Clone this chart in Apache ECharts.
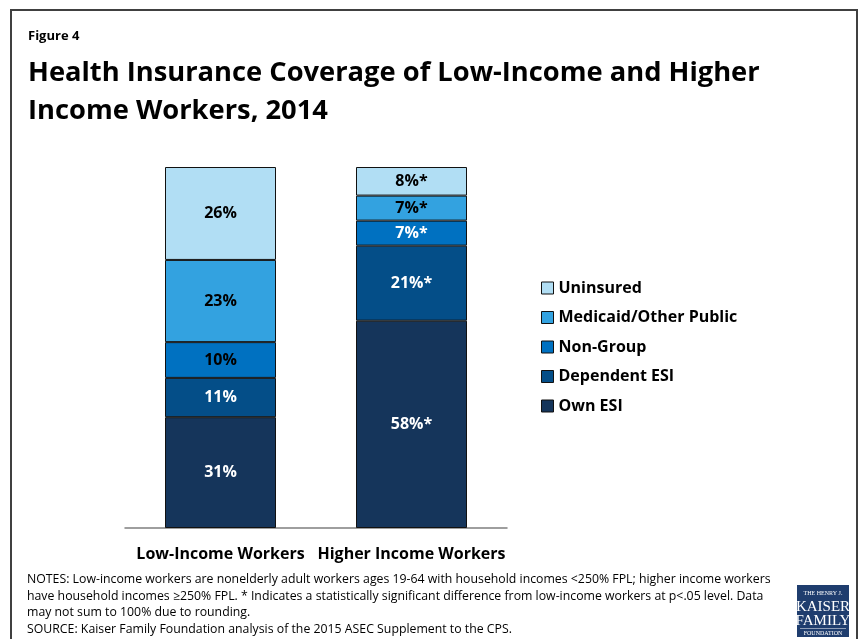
<!DOCTYPE html>
<html>
<head>
<meta charset="utf-8">
<script src="https://cdn.jsdelivr.net/npm/echarts@6/dist/echarts.min.js"></script>
<style>
html,body{margin:0;padding:0;background:#fff;}
#chart{width:861px;height:639px;}
</style>
</head>
<body>
<div id="chart"></div>
<script>
// ---- data ----
var categories = ['Low-Income Workers', 'Higher Income Workers'];
var seriesNames = ['Own ESI', 'Dependent ESI', 'Non-Group', 'Medicaid/Other Public', 'Uninsured'];
var ownESI = [31, 58];
var dependentESI = [11, 21];
var nonGroup = [10, 7];
var medicaid = [23, 7];
var uninsured = [26, 8];
var significant = [false, true];
var legendOrder = ['Uninsured', 'Medicaid/Other Public', 'Non-Group', 'Dependent ESI', 'Own ESI'];

// ---- styling ----
var FONT = "'Open Sans', sans-serif";
var colors = {
  'Own ESI': '#15355B',
  'Dependent ESI': '#044E88',
  'Non-Group': '#0071C1',
  'Medicaid/Other Public': '#33A2E0',
  'Uninsured': '#B1DEF4'
};
// label color per series per category
var labelColors = {
  'Own ESI': ['#fff', '#fff'],
  'Dependent ESI': ['#fff', '#fff'],
  'Non-Group': ['#000', '#fff'],
  'Medicaid/Other Public': ['#000', '#000'],
  'Uninsured': ['#000', '#000']
};
var values = [ownESI, dependentESI, nonGroup, medicaid, uninsured];

var series = seriesNames.map(function (name, si) {
  return {
    name: name,
    type: 'bar',
    stack: 'total',
    barWidth: 111,
    itemStyle: { color: colors[name], borderColor: '#111', borderWidth: 1 },
    data: values[si].map(function (v, ci) {
      return {
        value: v,
        label: {
          show: true,
          position: 'inside',
          color: labelColors[name][ci],
          fontFamily: FONT,
          fontWeight: 'bold',
          fontSize: 16,
          formatter: function (p) { return p.value + '%' + (significant[p.dataIndex] ? '*' : ''); }
        }
      };
    })
  };
});

var NOTE_FONT = '12.3px ' + FONT;
var chart = echarts.init(document.getElementById('chart'), null, { renderer: 'canvas' });
chart.setOption({
  animation: false,
  backgroundColor: '#fff',
  title: [
    { text: 'Figure 4', left: 23, top: 25, textStyle: { fontFamily: FONT, fontWeight: 'bold', fontSize: 13, color: '#000' } },
    { text: 'Health Insurance Coverage of Low-Income and Higher\nIncome Workers, 2014', left: 23, top: 49,
      textStyle: { fontFamily: FONT, fontWeight: 'bold', fontSize: 27.3, lineHeight: 38, color: '#000' } }
  ],
  legend: {
    orient: 'vertical',
    left: 536,
    top: 275,
    data: legendOrder,
    icon: 'rect',
    itemWidth: 12,
    itemHeight: 12,
    itemGap: 13.5,
    itemStyle: { borderColor: '#111', borderWidth: 1 },
    textStyle: { fontFamily: FONT, fontWeight: 'bold', fontSize: 16, color: '#000' },
    selectedMode: false
  },
  grid: { left: 125, width: 382, top: 167, bottom: 111, containLabel: false },
  xAxis: {
    type: 'category',
    data: categories,
    axisLine: { lineStyle: { color: '#7f7f7f', width: 1.5 } },
    axisTick: { show: false },
    axisLabel: { margin: 18, fontFamily: FONT, fontWeight: 'bold', fontSize: 16, color: '#000', interval: 0 }
  },
  yAxis: {
    type: 'value', min: 0, max: 101,
    show: false,
    splitLine: { show: false }
  },
  series: series,
  graphic: [
    { type: 'rect', shape: { x: 11, y: 10, width: 846, height: 660 }, style: { fill: 'none', stroke: '#404040', lineWidth: 2 }, silent: true },
    { type: 'text', left: 27, top: 573, style: { text: 'NOTES: Low-income workers are nonelderly adult workers ages 19-64 with household incomes <250% FPL; higher income workers', font: NOTE_FONT, fill: '#000' } },
    { type: 'text', left: 27, top: 590, style: { text: 'have household incomes \u2265250% FPL. * Indicates a statistically significant difference from low-income workers at p<.05 level. Data', font: NOTE_FONT, fill: '#000' } },
    { type: 'text', left: 27, top: 606, style: { text: 'may not sum to 100% due to rounding.', font: NOTE_FONT, fill: '#000' } },
    { type: 'text', left: 27, top: 623, style: { text: 'SOURCE: Kaiser Family Foundation analysis of the 2015 ASEC Supplement to the CPS.', font: NOTE_FONT, fill: '#000' } },
    { type: 'rect', shape: { x: 797, y: 585, width: 52, height: 52 }, style: { fill: '#1F3D6E' }, silent: true },
    { type: 'text', x: 823, y: 593, style: { text: 'THE HENRY J.', font: '6px "Liberation Serif", serif', fill: '#fff', textAlign: 'center', textVerticalAlign: 'middle' } },
    { type: 'text', x: 823, y: 607, style: { text: 'KAISER', font: '15px "Liberation Serif", serif', fill: '#fff', textAlign: 'center', textVerticalAlign: 'middle' } },
    { type: 'text', x: 823, y: 621, style: { text: 'FAMILY', font: '15px "Liberation Serif", serif', fill: '#fff', textAlign: 'center', textVerticalAlign: 'middle' } },
    { type: 'rect', shape: { x: 800, y: 628, width: 46, height: 0.6 }, style: { fill: '#fff' } },
    { type: 'text', x: 823, y: 633, style: { text: 'FOUNDATION', font: '6px "Liberation Serif", serif', fill: '#fff', textAlign: 'center', textVerticalAlign: 'middle' } }
  ]
});
</script>
</body>
</html>
